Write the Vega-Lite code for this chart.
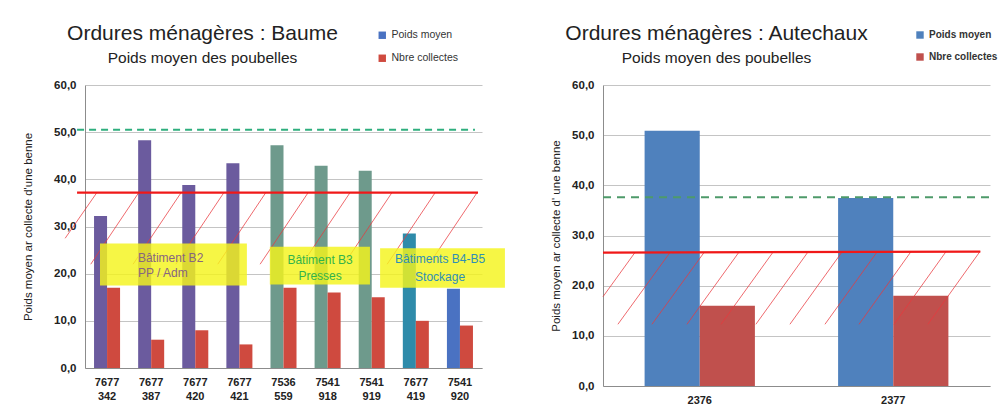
{
  "$schema": "https://vega.github.io/schema/vega-lite/v6.json",
  "background": "white",
  "padding": {"left": 22, "top": 22, "right": 4, "bottom": 2},
  "config": {
    "font": "Liberation Sans",
    "view": {"stroke": null},
    "axisY": {"values": [0, 10, 20, 30, 40, 50, 60], "labelExpr": "replace(format(datum.value, '.1f'), '.', ',')", "grid": true, "gridColor": "#C4C4C4", "domainColor": "#8C8C8C", "ticks": false, "tickSize": 0, "labelPadding": 9, "labelFontSize": 11.5, "labelFontWeight": "bold", "labelColor": "#222222", "titleFontSize": 11.5, "titleFontWeight": "normal", "titleColor": "#222222", "titlePadding": 20},
    "axisX": {"labelAngle": 0, "ticks": false, "tickSize": 0, "domainColor": "#8C8C8C", "labelFontWeight": "bold", "labelFontSize": 11, "labelColor": "#222222", "labelLineHeight": 14, "labelPadding": 8, "title": null},
    "legend": {"orient": "none", "title": null, "symbolType": "square", "symbolSize": 55, "symbolStrokeWidth": 0, "labelFontSize": 10.5, "labelColor": "#333333", "rowPadding": 12},
    "title": {"fontSize": 21, "fontWeight": "normal", "color": "#222222", "subtitleFontSize": 15.5, "subtitleColor": "#222222", "subtitlePadding": 7, "offset": 13, "anchor": "middle", "frame": "group"}
  },
  "datasets": {
    "baume": [
      {"bac": "7677 342", "batiment": "B2", "serie": "Poids moyen", "valeur": 32.2},
      {"bac": "7677 342", "batiment": "B2", "serie": "Nbre collectes", "valeur": 17},
      {"bac": "7677 387", "batiment": "B2", "serie": "Poids moyen", "valeur": 48.3},
      {"bac": "7677 387", "batiment": "B2", "serie": "Nbre collectes", "valeur": 6},
      {"bac": "7677 420", "batiment": "B2", "serie": "Poids moyen", "valeur": 38.8},
      {"bac": "7677 420", "batiment": "B2", "serie": "Nbre collectes", "valeur": 8},
      {"bac": "7677 421", "batiment": "B2", "serie": "Poids moyen", "valeur": 43.4},
      {"bac": "7677 421", "batiment": "B2", "serie": "Nbre collectes", "valeur": 5},
      {"bac": "7536 559", "batiment": "B3", "serie": "Poids moyen", "valeur": 47.2},
      {"bac": "7536 559", "batiment": "B3", "serie": "Nbre collectes", "valeur": 17},
      {"bac": "7541 918", "batiment": "B3", "serie": "Poids moyen", "valeur": 42.9},
      {"bac": "7541 918", "batiment": "B3", "serie": "Nbre collectes", "valeur": 16},
      {"bac": "7541 919", "batiment": "B3", "serie": "Poids moyen", "valeur": 41.8},
      {"bac": "7541 919", "batiment": "B3", "serie": "Nbre collectes", "valeur": 15},
      {"bac": "7677 419", "batiment": "B4", "serie": "Poids moyen", "valeur": 28.5},
      {"bac": "7677 419", "batiment": "B4", "serie": "Nbre collectes", "valeur": 10},
      {"bac": "7541 920", "batiment": "B5", "serie": "Poids moyen", "valeur": 16.8},
      {"bac": "7541 920", "batiment": "B5", "serie": "Nbre collectes", "valeur": 9}
    ],
    "baume_hachures": [
      {"x": 0.27, "y": 37.2, "x2": -0.45, "y2": 27.5},
      {"x": 1.22, "y": 37.2, "x2": 0.13, "y2": 22.0},
      {"x": 2.18, "y": 37.2, "x2": 1.09, "y2": 22.0},
      {"x": 3.15, "y": 37.2, "x2": 2.06, "y2": 22.0},
      {"x": 4.10, "y": 37.2, "x2": 3.01, "y2": 22.0},
      {"x": 5.06, "y": 37.2, "x2": 3.97, "y2": 22.0},
      {"x": 6.01, "y": 37.2, "x2": 4.92, "y2": 22.0},
      {"x": 6.96, "y": 37.2, "x2": 5.87, "y2": 22.0},
      {"x": 7.94, "y": 37.2, "x2": 6.85, "y2": 22.0},
      {"x": 8.89, "y": 37.2, "x2": 7.80, "y2": 22.0}
    ],
    "baume_seuils": [
      {"seuil": "rouge", "x": -0.18, "x2": 8.91, "y": 37.2, "y2": 37.2},
      {"seuil": "vert", "x": -0.18, "x2": 8.84, "y": 50.5, "y2": 50.5}
    ],
    "baume_zones": [
      {"zone": "B2", "x": 0.34, "x2": 3.67, "y": 26.4, "y2": 17.5},
      {"zone": "B3", "x": 4.19, "x2": 6.46, "y": 25.7, "y2": 17.7},
      {"zone": "B4-B5", "x": 6.69, "x2": 9.52, "y": 25.4, "y2": 17.0}
    ],
    "baume_textes": [
      {"zone": "B2", "x": 1.20, "y": 23.4, "texte": "Bâtiment B2"},
      {"zone": "B2", "x": 1.20, "y": 20.1, "texte": "PP / Adm"},
      {"zone": "B3", "x": 5.33, "y": 23.0, "texte": "Bâtiment B3"},
      {"zone": "B3", "x": 5.33, "y": 19.6, "texte": "Presses"},
      {"zone": "B4-B5", "x": 8.05, "y": 23.1, "texte": "Bâtiments B4-B5"},
      {"zone": "B4-B5", "x": 8.05, "y": 19.2, "texte": "Stockage"}
    ],
    "autechaux": [
      {"bac": "2376", "serie": "Poids moyen", "valeur": 50.9},
      {"bac": "2376", "serie": "Nbre collectes", "valeur": 16},
      {"bac": "2377", "serie": "Poids moyen", "valeur": 37.5},
      {"bac": "2377", "serie": "Nbre collectes", "valeur": 18}
    ],
    "autechaux_hachures": [
      {"x": 0.165, "y": 26.6, "x2": 0.0, "y2": 17.8},
      {"x": 0.346, "y": 26.6, "x2": 0.077, "y2": 12.3},
      {"x": 0.522, "y": 26.6, "x2": 0.253, "y2": 12.3},
      {"x": 0.703, "y": 26.7, "x2": 0.434, "y2": 12.3},
      {"x": 0.879, "y": 26.7, "x2": 0.610, "y2": 12.3},
      {"x": 1.059, "y": 26.7, "x2": 0.790, "y2": 12.3},
      {"x": 1.235, "y": 26.7, "x2": 0.966, "y2": 12.3},
      {"x": 1.416, "y": 26.7, "x2": 1.147, "y2": 12.3},
      {"x": 1.592, "y": 26.8, "x2": 1.323, "y2": 12.3},
      {"x": 1.773, "y": 26.8, "x2": 1.504, "y2": 12.3},
      {"x": 1.948, "y": 26.8, "x2": 1.679, "y2": 12.3}
    ],
    "autechaux_seuils": [
      {"seuil": "rouge", "x": 0.0, "x2": 1.95, "y": 26.6, "y2": 26.8},
      {"seuil": "vert", "x": 0.0, "x2": 2.0, "y": 37.6, "y2": 37.6}
    ]
  },
  "bounds": "flush",
  "spacing": 121,
  "resolve": {"scale": {"xOffset": "independent"}},
  "hconcat": [
    {
      "width": 397,
      "height": 283,
      "title": {"text": "Ordures ménagères : Baume", "subtitle": "Poids moyen des poubelles", "dx": -81},
      "resolve": {"scale": {"x": "independent"}},
      "layer": [
        {
          "data": {"name": "baume"},
          "encoding": {
            "x": {"field": "bac", "type": "nominal", "sort": null, "scale": {"paddingInner": 0.41, "paddingOuter": 0.205}, "axis": {"labelExpr": "split(datum.label, ' ')"}},
            "xOffset": {"field": "serie", "type": "nominal", "scale": {"domain": ["Poids moyen", "Nbre collectes"]}},
            "y": {"field": "valeur", "type": "quantitative", "scale": {"domain": [0, 60], "nice": false}, "axis": {"title": "Poids moyen ar collecte d'une benne"}}
          },
          "layer": [
            {
              "transform": [{"filter": "datum.serie === 'Poids moyen'"}],
              "mark": {"type": "bar"},
              "encoding": {
                "color": {"field": "batiment", "type": "nominal", "scale": {"domain": ["B2", "B3", "B4", "B5", "Nbre collectes"], "range": ["#6B5B9E", "#6E9A8C", "#2E8BAA", "#4A72C2", "#CF4A3F"]}, "legend": {"values": ["B5", "Nbre collectes"], "labelExpr": "datum.label === 'B5' ? 'Poids moyen' : datum.label", "legendX": 292, "legendY": -55}}
              }
            },
            {
              "transform": [{"filter": "datum.serie === 'Nbre collectes'"}],
              "mark": {"type": "bar"},
              "encoding": {
                "color": {"field": "serie", "type": "nominal"}
              }
            }
          ]
        },
        {
          "layer": [
            {
              "data": {"name": "baume_hachures"},
              "mark": {"type": "rule", "color": "#E8383D", "strokeWidth": 1, "opacity": 0.75},
              "encoding": {
                "x": {"field": "x", "type": "quantitative", "scale": {"domain": [0, 9], "nice": false, "zero": false}, "axis": null},
                "x2": {"field": "x2"},
                "y": {"field": "y", "type": "quantitative"},
                "y2": {"field": "y2"}
              }
            },
            {
              "data": {"name": "baume_seuils"},
              "transform": [{"filter": "datum.seuil === 'rouge'"}],
              "mark": {"type": "rule", "color": "#F01818", "strokeWidth": 2.2},
              "encoding": {
                "x": {"field": "x", "type": "quantitative", "scale": {"domain": [0, 9], "nice": false, "zero": false}, "axis": null},
                "x2": {"field": "x2"},
                "y": {"field": "y", "type": "quantitative"},
                "y2": {"field": "y2"}
              }
            },
            {
              "data": {"name": "baume_seuils"},
              "transform": [{"filter": "datum.seuil === 'vert'"}],
              "mark": {"type": "rule", "color": "#2FAE7E", "strokeWidth": 2, "strokeDash": [7, 5]},
              "encoding": {
                "x": {"field": "x", "type": "quantitative", "scale": {"domain": [0, 9], "nice": false, "zero": false}, "axis": null},
                "x2": {"field": "x2"},
                "y": {"field": "y", "type": "quantitative"},
                "y2": {"field": "y2"}
              }
            },
            {
              "data": {"name": "baume_zones"},
              "mark": {"type": "rect", "color": "#F4F41C", "opacity": 0.82},
              "encoding": {
                "x": {"field": "x", "type": "quantitative", "scale": {"domain": [0, 9], "nice": false, "zero": false}, "axis": null},
                "x2": {"field": "x2"},
                "y": {"field": "y", "type": "quantitative"},
                "y2": {"field": "y2"}
              }
            },
            {
              "data": {"name": "baume_textes"},
              "transform": [{"filter": "datum.zone === 'B2'"}],
              "mark": {"type": "text", "color": "#876580", "fontSize": 12, "align": "left", "baseline": "middle"},
              "encoding": {
                "x": {"field": "x", "type": "quantitative", "scale": {"domain": [0, 9], "nice": false, "zero": false}, "axis": null},
                "y": {"field": "y", "type": "quantitative"},
                "text": {"field": "texte"}
              }
            },
            {
              "data": {"name": "baume_textes"},
              "transform": [{"filter": "datum.zone === 'B3'"}],
              "mark": {"type": "text", "color": "#33B34A", "fontSize": 12, "align": "center", "baseline": "middle"},
              "encoding": {
                "x": {"field": "x", "type": "quantitative", "scale": {"domain": [0, 9], "nice": false, "zero": false}, "axis": null},
                "y": {"field": "y", "type": "quantitative"},
                "text": {"field": "texte"}
              }
            },
            {
              "data": {"name": "baume_textes"},
              "transform": [{"filter": "datum.zone === 'B4-B5'"}],
              "mark": {"type": "text", "color": "#2E8FB5", "fontSize": 12, "align": "center", "baseline": "middle"},
              "encoding": {
                "x": {"field": "x", "type": "quantitative", "scale": {"domain": [0, 9], "nice": false, "zero": false}, "axis": null},
                "y": {"field": "y", "type": "quantitative"},
                "text": {"field": "texte"}
              }
            }
          ]
        }
      ]
    },
    {
      "width": 387,
      "height": 301,
      "title": {"text": "Ordures ménagères : Autechaux", "subtitle": "Poids moyen des poubelles", "dx": -80},
      "resolve": {"scale": {"x": "independent"}},
      "layer": [
        {
          "data": {"name": "autechaux"},
          "mark": {"type": "bar"},
          "encoding": {
            "x": {"field": "bac", "type": "nominal", "sort": null, "scale": {"paddingInner": 0.43, "paddingOuter": 0.215}},
            "xOffset": {"field": "serie", "type": "nominal", "scale": {"domain": ["Poids moyen", "Nbre collectes"]}},
            "y": {"field": "valeur", "type": "quantitative", "scale": {"domain": [0, 60], "nice": false}, "axis": {"title": "Poids moyen ar collecte d' une benne", "titlePadding": 10}},
            "fill": {"field": "serie", "type": "nominal", "scale": {"domain": ["Poids moyen", "Nbre collectes"], "range": ["#4F81BD", "#C0504D"]}, "legend": {"legendX": 830, "legendY": -55, "labelFontWeight": "bold", "labelFontSize": 10}}
          }
        },
        {
          "layer": [
            {
              "data": {"name": "autechaux_hachures"},
              "mark": {"type": "rule", "color": "#E8383D", "strokeWidth": 1, "opacity": 0.75},
              "encoding": {
                "x": {"field": "x", "type": "quantitative", "scale": {"domain": [0, 2], "nice": false, "zero": false}, "axis": null},
                "x2": {"field": "x2"},
                "y": {"field": "y", "type": "quantitative"},
                "y2": {"field": "y2"}
              }
            },
            {
              "data": {"name": "autechaux_seuils"},
              "transform": [{"filter": "datum.seuil === 'rouge'"}],
              "mark": {"type": "rule", "color": "#F01818", "strokeWidth": 2.2},
              "encoding": {
                "x": {"field": "x", "type": "quantitative", "scale": {"domain": [0, 2], "nice": false, "zero": false}, "axis": null},
                "x2": {"field": "x2"},
                "y": {"field": "y", "type": "quantitative"},
                "y2": {"field": "y2"}
              }
            },
            {
              "data": {"name": "autechaux_seuils"},
              "transform": [{"filter": "datum.seuil === 'vert'"}],
              "mark": {"type": "rule", "color": "#4E9A6A", "strokeWidth": 2, "strokeDash": [8, 6]},
              "encoding": {
                "x": {"field": "x", "type": "quantitative", "scale": {"domain": [0, 2], "nice": false, "zero": false}, "axis": null},
                "x2": {"field": "x2"},
                "y": {"field": "y", "type": "quantitative"},
                "y2": {"field": "y2"}
              }
            }
          ]
        }
      ]
    }
  ]
}
